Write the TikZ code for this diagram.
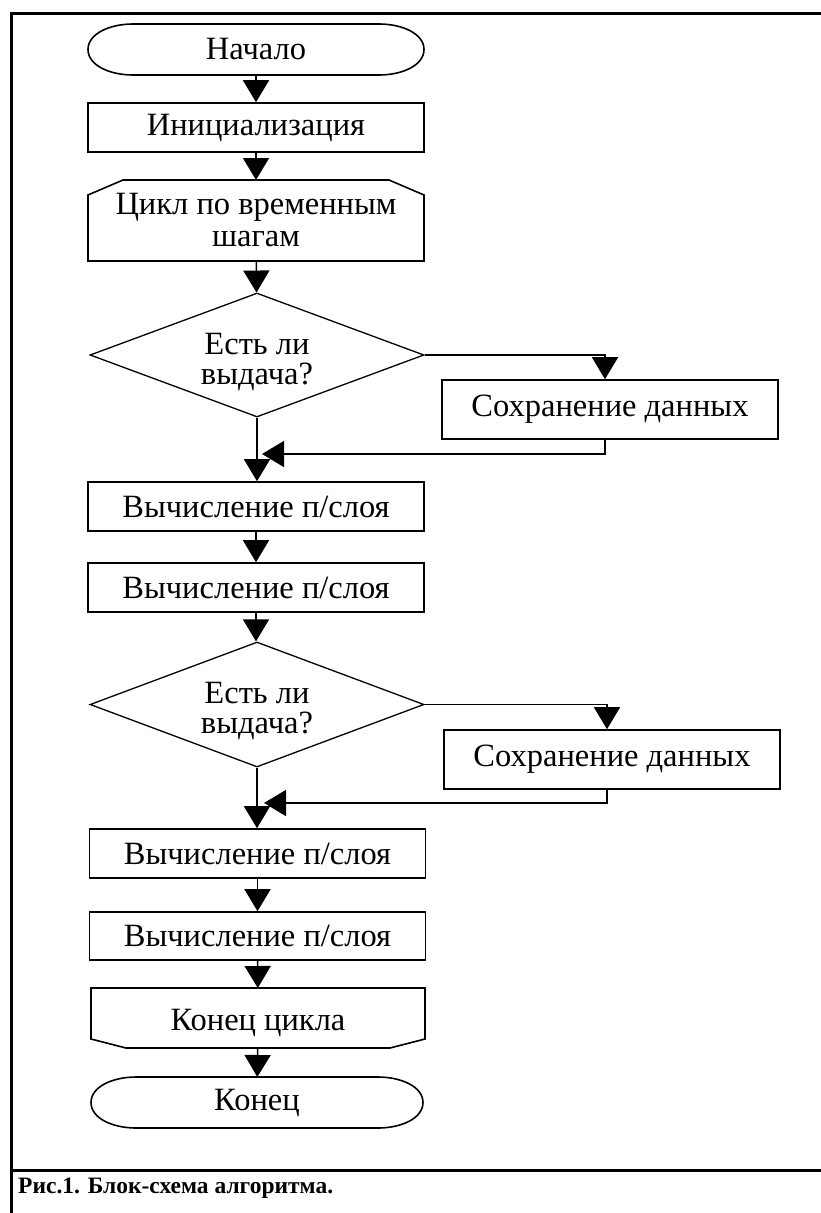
\documentclass[tikz,border=0pt]{standalone}
\usepackage{fontspec}
\setmainfont{Liberation Serif}
\usetikzlibrary{arrows.meta,shapes.geometric}
\newcommand\termoutline[1]{%
  \draw[outline] ([xshift=45pt]#1.north west) -- ([xshift=-45pt]#1.north east)
    .. controls ([xshift=-22pt]#1.north east) and ([yshift=16pt]#1.east) .. (#1.east)
    .. controls ([yshift=-16pt]#1.east) and ([xshift=-22pt]#1.south east) .. ([xshift=-45pt]#1.south east)
    -- ([xshift=45pt]#1.south west)
    .. controls ([xshift=22pt]#1.south west) and ([yshift=-16pt]#1.west) .. (#1.west)
    .. controls ([yshift=16pt]#1.west) and ([xshift=22pt]#1.north west) .. cycle;}
\begin{document}
\begin{tikzpicture}[x=1pt,y=-1pt,
  every node/.style={font=\fontsize{32.5}{32}\selectfont},
  blk/.style={draw,line width=1.6pt,minimum width=336pt,minimum height=49pt,inner sep=0pt},
  ghost/.style={inner sep=0pt,outer sep=0pt,minimum width=336pt},
  outline/.style={draw,line width=1.6pt},
  dia/.style={draw,line width=1.3pt,diamond,minimum width=334pt,minimum height=124pt,inner sep=0pt},
  txt/.style={align=center,inner sep=0pt,font=\fontsize{32.5}{30}\selectfont},
  conn/.style={line width=1.6pt,-{Triangle[width=26pt,length=22pt]}},
  frame/.style={line width=3pt},
  capt/.style={anchor=base west,inner sep=0pt,font=\fontsize{23.5}{24}\selectfont\bfseries}
]
\useasboundingbox (0,0) rectangle (821,1213);
\fill[white] (0,0) rectangle (821,1213);

% frame
\draw[frame] (821,13) -- (11,13) -- (11,1213);
\draw[frame] (11,1170) -- (821,1170);

% nodes
\node[ghost,minimum height=51pt] (start) at (256,49.5) {Начало};
\termoutline{start}
\node[blk] (init) at (256,127.5) {Инициализация};
\node[ghost,minimum height=81pt,align=center] (loop) at (256,220.5) {Цикл по временным\\шагам};
\draw[outline] ([xshift=35pt]loop.north west) -- ([xshift=-35pt]loop.north east)
  -- ([yshift=-15pt]loop.north east) -- (loop.south east) -- (loop.south west)
  -- ([yshift=-15pt]loop.north west) -- cycle;

\node[dia] (d1) at (257,355) {};
\node[txt] (d1t) at (257,362) {Есть ли\\выдача?};
\node[blk,minimum height=59pt] (s1) at (610,409.5) {Сохранение данных};
\coordinate (m1) at (257,454);
\node[blk] (c1) at (256,506.5) {Вычисление п/слоя};
\node[blk] (c2) at (256,587.5) {Вычисление п/слоя};

\node[dia,minimum height=125pt] (d2) at (257,704.5) {};
\node[txt] (d2t) at (257,711) {Есть ли\\выдача?};
\node[blk,minimum height=59pt] (s2) at (612,759.5) {Сохранение данных};
\coordinate (m2) at (259,803);
\node[blk] (c3) at (257.5,853.5) {Вычисление п/слоя};
\node[blk,minimum height=48pt] (c4) at (257.5,936) {Вычисление п/слоя};

\node[ghost,minimum height=60pt,minimum width=334pt] (le) at (258,1018) {};
\draw[outline] (le.north west) -- (le.north east) -- ([yshift=9pt]le.south east)
  -- ([xshift=-35pt]le.south east) -- ([xshift=35pt]le.south west)
  -- ([yshift=9pt]le.south west) -- cycle;
\node[txt] (let) at (258,1023) {Конец цикла};
\node[ghost,minimum height=51pt,minimum width=332pt] (end) at (257,1102.5) {Конец};
\termoutline{end}

% connectors
\draw[conn] (start) -- (init);
\draw[conn] (init) -- (loop);
\draw[conn] (loop) -- (d1);
\draw[conn] (d1.east) -| ([xshift=-5pt]s1.north);
\draw[conn,shorten >=5pt] ([xshift=-5pt]s1.south) |- (m1);
\draw[conn] (d1.south) -- (d1.south |- c1.north);
\draw[conn] (c1) -- (c2);
\draw[conn] (c2.south) -- (c2.south |- d2.north);
\draw[conn] (d2.east) -| ([xshift=-5pt]s2.north);
\draw[conn,shorten >=5pt] ([xshift=-5pt]s2.south) |- (m2);
\draw[conn] (d2.south) -- (d2.south |- c3.north);
\draw[conn] (c3) -- (c4);
\draw[conn] (c4) -- (le);
\draw[conn] (le) -- (end);

% caption
\node[capt] (cap) at (18,1193) {Рис.1. Блок-схема алгоритма.};
\end{tikzpicture}
\end{document}
